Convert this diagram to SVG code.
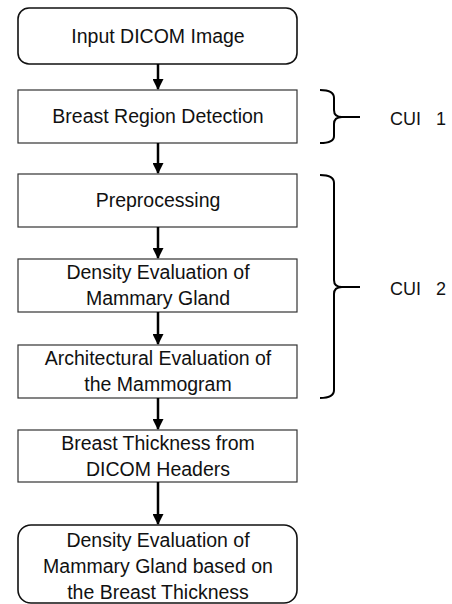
<svg xmlns="http://www.w3.org/2000/svg" width="452" height="604" viewBox="0 0 452 604">
<defs>
<style>
.box{fill:#fff;stroke:#333;stroke-width:1.2}
.rbox{fill:#fff;stroke:#111;stroke-width:1.6}
.t{font-family:"Liberation Sans",Arial,sans-serif;font-size:19.5px;fill:#111;text-anchor:middle}
.lbl{font-family:"Liberation Sans",Arial,sans-serif;font-size:18px;fill:#111}
.c{stroke:#000;stroke-width:2.5;fill:none}
.br{stroke:#000;stroke-width:2;fill:none}
</style>
<marker id="arr" markerWidth="11" markerHeight="11" refX="10" refY="5.5" orient="auto" markerUnits="userSpaceOnUse">
<path d="M0,0 L11,5.5 L0,11 Z" fill="#000"/>
</marker>
</defs>
<g id="n1"><rect class="rbox" x="18" y="8" width="279" height="56" rx="11"/><text class="t" x="158" y="43">Input DICOM Image</text></g>
<g id="n2"><rect class="box" x="18" y="90" width="279" height="53"/><text class="t" x="158" y="123">Breast Region Detection</text></g>
<g id="n3"><rect class="box" x="18" y="174" width="279" height="53"/><text class="t" x="158" y="207">Preprocessing</text></g>
<g id="n4"><rect class="box" x="18" y="259" width="279" height="53"/><text class="t" x="158" y="279">Density Evaluation of</text><text class="t" x="158" y="305">Mammary Gland</text></g>
<g id="n5"><rect class="box" x="18" y="345" width="279" height="53"/><text class="t" x="158" y="365">Architectural Evaluation of</text><text class="t" x="158" y="391">the Mammogram</text></g>
<g id="n6"><rect class="box" x="18" y="430" width="279" height="52"/><text class="t" x="158" y="450">Breast Thickness from</text><text class="t" x="158" y="476">DICOM Headers</text></g>
<g id="n7"><rect class="rbox" x="18" y="525" width="279" height="78" rx="13"/><text class="t" x="158" y="547">Density Evaluation of</text><text class="t" x="158" y="573">Mammary Gland based on</text><text class="t" x="158" y="599">the Breast Thickness</text></g>
<g id="connectors">
<line class="c" x1="158" y1="64" x2="158" y2="89" marker-end="url(#arr)"/>
<line class="c" x1="158" y1="143" x2="158" y2="173" marker-end="url(#arr)"/>
<line class="c" x1="158" y1="227" x2="158" y2="258" marker-end="url(#arr)"/>
<line class="c" x1="158" y1="312" x2="158" y2="344" marker-end="url(#arr)"/>
<line class="c" x1="158" y1="398" x2="158" y2="429" marker-end="url(#arr)"/>
<line class="c" x1="158" y1="482" x2="158" y2="524" marker-end="url(#arr)"/>
</g>
<g id="brace1">
<path class="br" d="M320,90 Q334,90 334,98 L334,110 Q334,117 342,117 L360,117 M342,117 Q334,117 334,124 L334,136 Q334,143 320,143"/>
<text class="lbl" x="390" y="125" xml:space="preserve">CUI   1</text>
</g>
<g id="brace2">
<path class="br" d="M320,175 Q334,175 334,183 L334,280 Q334,287 342,287 L360,287 M342,287 Q334,287 334,294 L334,390 Q334,398 320,398"/>
<text class="lbl" x="390" y="295" xml:space="preserve">CUI   2</text>
</g>
</svg>
